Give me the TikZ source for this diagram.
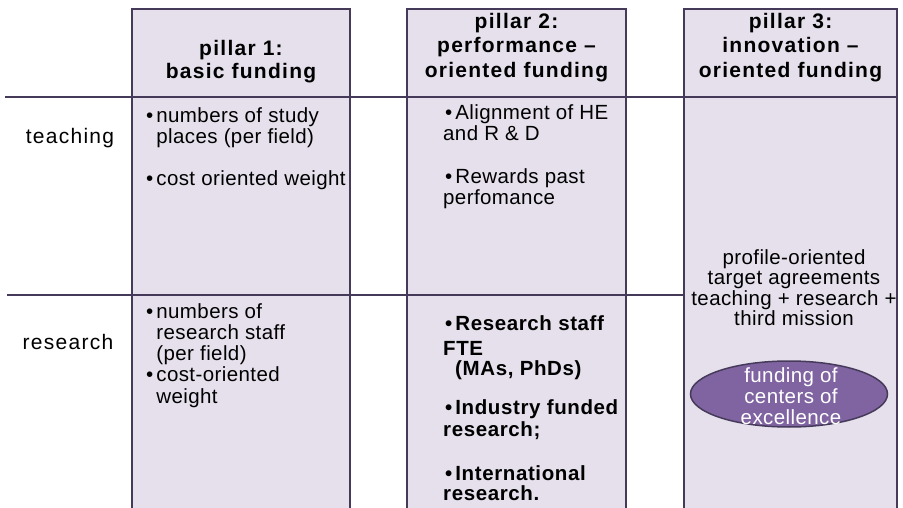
\documentclass[tikz,border=0pt]{standalone}
\usepackage{fontspec}
\setmainfont{Liberation Sans}
\newfontfamily\ttlf[LetterSpace=6]{Liberation Sans}
\newfontfamily\bodyf[LetterSpace=2]{Liberation Sans}
\newfontfamily\boldf[LetterSpace=3]{Liberation Sans}
\newfontfamily\labf[LetterSpace=6]{Liberation Sans}
\usetikzlibrary{shapes.geometric}
\definecolor{pborder}{HTML}{463A5A}
\definecolor{pfill}{HTML}{E5E0EC}
\definecolor{pdark}{HTML}{8064A2}
\tikzset{
  pillar/.style={draw=pborder, fill=pfill, line width=2.7pt},
  rowline/.style={draw=pborder, line width=2.7pt},
  title/.style={font=\ttlf\fontsize{21}{24.5}\selectfont\bfseries, align=center, inner sep=0pt, anchor=north},
  body/.style={font=\bodyf\fontsize{20.5}{21.3}\selectfont, align=left, inner sep=0pt, anchor=north west},
  bodyb/.style={font=\boldf\fontsize{20.5}{21.5}\selectfont\bfseries, align=left, inner sep=0pt, anchor=north west},
  rowlabel/.style={font=\labf\fontsize{21}{23}\selectfont, inner sep=0pt},
  centre/.style={font=\bodyf\fontsize{20.5}{20.5}\selectfont, align=center, inner sep=0pt},
  excel/.style={ellipse, draw=pborder, fill=pdark, line width=1.5pt, minimum width=197pt, minimum height=66pt, inner sep=0pt},
}
\newcommand{\bul}{\textbullet\hspace{3pt}}
\newcommand{\hang}{\hphantom{\textbullet\hspace{3pt}}}
\begin{document}
\begin{tikzpicture}[x=1pt,y=-1pt]
\useasboundingbox (0,0) rectangle (903,508);
% pillars 1 and 2
\path[pillar] (132,9) rectangle (350,530);
\path[pillar] (407,9) rectangle (626,530);
% research row line
\coordinate (l2a) at (7,295);
\coordinate (l2b) at (684,295);
\path[rowline] (l2a) -- (l2b);
% pillar 3
\path[pillar] (684,9) rectangle (897,530);
% teaching row line
\coordinate (l1a) at (5,97);
\coordinate (l1b) at (897,97);
\path[rowline] (l1a) -- (l1b);
% titles
\node[title] (t1) at (241,40) {pillar 1:\\[-1.5pt]basic funding};
\node[title] (t2) at (516.5,13) {pillar 2:\\performance –\\oriented funding};
\node[title] (t3) at (790.5,13) {pillar 3:\\innovation –\\oriented funding};
% row labels
\node[rowlabel] (teach) at (70,138) {teaching};
\node[rowlabel] (res) at (68,342) {research};
% pillar 1 texts
\node[body] (p1t) at (146,107) {\bul numbers of study\\\hang places (per field)\\[21pt]\bul cost oriented weight};
\node[body] (p1r) at (146,303) {\bul numbers of\\\hang research staff\\\hang (per field)\\\bul cost-oriented\\\hang weight};
% pillar 2 texts
\node[body] (p2t) at (443,104) {\hspace{2pt}\bul Alignment of HE\\and R \& D\\[22pt]\hspace{2pt}\bul Rewards past\\perfomance};
\node[bodyb] (p2r) at (443,315) {\hspace{2pt}\bul Research staff\\[3.5pt]FTE\\[-1pt]\hspace{12pt}(MAs, PhDs)\\[17.5pt]\hspace{2pt}\bul Industry funded\\research;\\[22.5pt]\hspace{2pt}\bul International\\[-1.5pt]research.};
% pillar 3 texts
\node[centre, anchor=north] (p3) at (794,249) {profile-oriented\\target agreements\\teaching + research +\\third mission};
\node[excel] (coe) at (789,394) {};
\node[centre, text=white, font=\bodyf\fontsize{20.5}{21}\selectfont] (coet) at (791,396) {funding of\\centers of\\excellence};
\end{tikzpicture}
\end{document}
